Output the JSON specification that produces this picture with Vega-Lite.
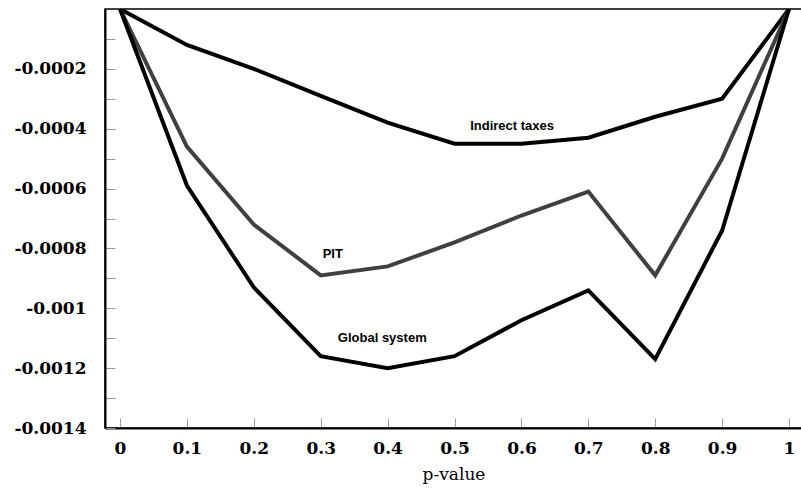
{
  "$schema": "https://vega.github.io/schema/vega-lite/v6.json",
  "autosize": "none",
  "width": 697,
  "height": 419,
  "padding": {"left": 105, "top": 9, "right": 0, "bottom": 63},
  "background": "white",
  "config": {
    "view": {"stroke": "black", "strokeWidth": 1.5},
    "axis": {"grid": false}
  },
  "datasets": {
    "series": [
      {"p": 0, "v": 0, "s": "Indirect taxes"},
      {"p": 0.1, "v": -0.00012, "s": "Indirect taxes"},
      {"p": 0.2, "v": -0.0002, "s": "Indirect taxes"},
      {"p": 0.3, "v": -0.00029, "s": "Indirect taxes"},
      {"p": 0.4, "v": -0.00038, "s": "Indirect taxes"},
      {"p": 0.5, "v": -0.00045, "s": "Indirect taxes"},
      {"p": 0.6, "v": -0.00045, "s": "Indirect taxes"},
      {"p": 0.7, "v": -0.00043, "s": "Indirect taxes"},
      {"p": 0.8, "v": -0.00036, "s": "Indirect taxes"},
      {"p": 0.9, "v": -0.0003, "s": "Indirect taxes"},
      {"p": 1, "v": 0, "s": "Indirect taxes"},
      {"p": 0, "v": 0, "s": "PIT"},
      {"p": 0.1, "v": -0.00046, "s": "PIT"},
      {"p": 0.2, "v": -0.00072, "s": "PIT"},
      {"p": 0.3, "v": -0.00089, "s": "PIT"},
      {"p": 0.4, "v": -0.00086, "s": "PIT"},
      {"p": 0.5, "v": -0.00078, "s": "PIT"},
      {"p": 0.6, "v": -0.00069, "s": "PIT"},
      {"p": 0.7, "v": -0.00061, "s": "PIT"},
      {"p": 0.8, "v": -0.00089, "s": "PIT"},
      {"p": 0.9, "v": -0.0005, "s": "PIT"},
      {"p": 1, "v": 0, "s": "PIT"},
      {"p": 0, "v": 0, "s": "Global system"},
      {"p": 0.1, "v": -0.00059, "s": "Global system"},
      {"p": 0.2, "v": -0.00093, "s": "Global system"},
      {"p": 0.3, "v": -0.00116, "s": "Global system"},
      {"p": 0.4, "v": -0.0012, "s": "Global system"},
      {"p": 0.5, "v": -0.00116, "s": "Global system"},
      {"p": 0.6, "v": -0.00104, "s": "Global system"},
      {"p": 0.7, "v": -0.00094, "s": "Global system"},
      {"p": 0.8, "v": -0.00117, "s": "Global system"},
      {"p": 0.9, "v": -0.00074, "s": "Global system"},
      {"p": 1, "v": 0, "s": "Global system"}
    ],
    "labels": [
      {"p": 0.586, "v": -0.00039, "t": "Indirect taxes"},
      {"p": 0.318, "v": -0.00082, "t": "PIT"},
      {"p": 0.392, "v": -0.0011, "t": "Global system"}
    ]
  },
  "encoding": {
    "x": {
      "field": "p", "type": "quantitative",
      "scale": {"domain": [-0.02242, 1.0194], "nice": false, "zero": false},
      "axis": {
        "title": "p-value",
        "titleFont": "DejaVu Serif", "titleFontWeight": "normal", "titleFontSize": 17, "titleColor": "black", "titlePadding": 10,
        "values": [0, 0.1, 0.2, 0.3, 0.4, 0.5, 0.6, 0.7, 0.8, 0.9, 1],
        "format": "~g",
        "labelFont": "DejaVu Serif", "labelFontWeight": "bold", "labelFontSize": 17, "labelColor": "black", "labelPadding": 22,
        "tickSize": -10, "tickColor": "#999999", "tickWidth": 1,
        "domainColor": "black", "domainWidth": 2,
        "labelFlush": false
      }
    },
    "y": {
      "field": "v", "type": "quantitative",
      "scale": {"domain": [-0.0014, 0], "nice": false},
      "axis": {
        "title": null,
        "values": [-0.0014, -0.0013, -0.0012, -0.0011, -0.001, -0.0009, -0.0008, -0.0007, -0.0006, -0.0005, -0.0004, -0.0003, -0.0002, -0.0001],
        "labelExpr": "abs(round(datum.value*10000)) % 2 == 0 ? replace(format(datum.value, '~g'), '\u2212', '-') : ''",
        "labelFont": "DejaVu Serif", "labelFontWeight": "bold", "labelFontSize": 17, "labelColor": "black", "labelPadding": 29,
        "tickSize": -10, "tickColor": "#999999", "tickWidth": 1,
        "domainColor": "black", "domainWidth": 2
      }
    }
  },
  "layer": [
    {
      "data": {"name": "series"},
      "mark": {"type": "line", "strokeWidth": 4, "strokeJoin": "miter", "clip": true},
      "encoding": {
        "detail": {"field": "s"},
        "color": {
          "field": "s", "type": "nominal",
          "scale": {"domain": ["Indirect taxes", "PIT", "Global system"], "range": ["#000000", "#404040", "#000000"]},
          "legend": null
        }
      }
    },
    {
      "data": {"name": "labels"},
      "mark": {"type": "text", "font": "Liberation Sans", "fontWeight": "bold", "fontSize": 13, "color": "black", "align": "center", "baseline": "middle"},
      "encoding": {"text": {"field": "t"}}
    }
  ]
}
